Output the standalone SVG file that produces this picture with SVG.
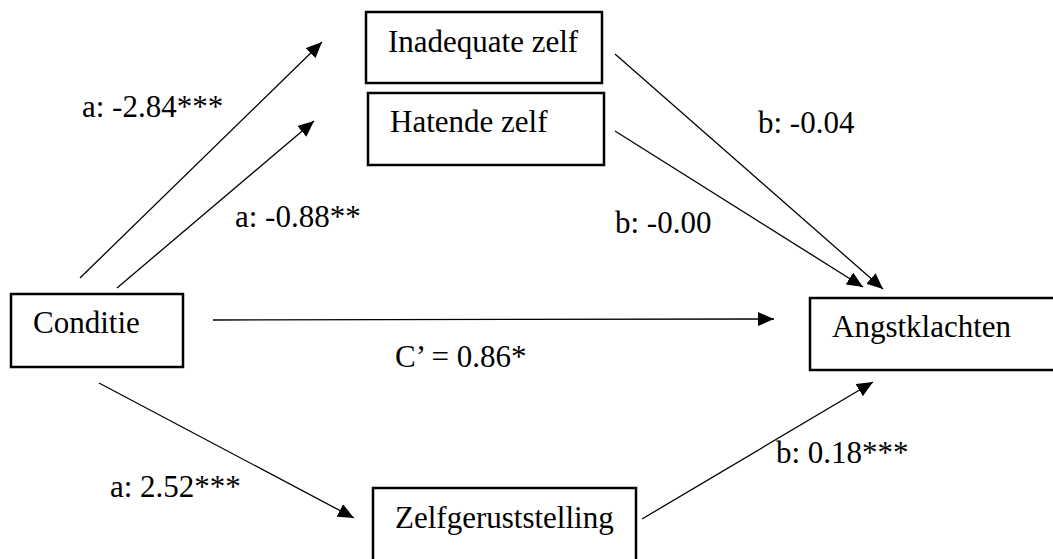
<svg xmlns="http://www.w3.org/2000/svg" width="1053" height="559" viewBox="0 0 1053 559">
  <style>
    .box { fill: #fff; stroke: #000; stroke-width: 2.5; }
    .lbl { font-family: "Liberation Serif", "DejaVu Serif", serif; font-size: 31px; fill: #000; }
    .edge { stroke: #000; stroke-width: 1.3; fill: none; marker-end: url(#arrow); }
  </style>
  <defs>
    <marker id="arrow" markerUnits="userSpaceOnUse" markerWidth="17" markerHeight="14" refX="16" refY="7" orient="auto">
      <path d="M0,0 L16,7 L0,14 z" fill="#000"/>
    </marker>
  </defs>
  <rect width="1053" height="559" fill="#fff"/>

  <g id="node-inadequate">
    <rect class="box" x="366" y="12" width="236" height="71"/>
    <text class="lbl" x="388" y="52">Inadequate zelf</text>
  </g>
  <g id="node-hatende">
    <rect class="box" x="368" y="93" width="236" height="72"/>
    <text class="lbl" x="390" y="132">Hatende zelf</text>
  </g>
  <g id="node-conditie">
    <rect class="box" x="11" y="294" width="172" height="73"/>
    <text class="lbl" x="33" y="333">Conditie</text>
  </g>
  <g id="node-angst">
    <rect class="box" x="810" y="298" width="250" height="72"/>
    <text class="lbl" x="832" y="337">Angstklachten</text>
  </g>
  <g id="node-zelfgerust">
    <rect class="box" x="373" y="488" width="263" height="90"/>
    <text class="lbl" x="395" y="528">Zelfgeruststelling</text>
  </g>

  <g id="connectors">
    <line class="edge" x1="80" y1="278" x2="322" y2="42"/>
    <line class="edge" x1="117" y1="288" x2="314" y2="121"/>
    <line class="edge" x1="615" y1="54" x2="883" y2="289"/>
    <line class="edge" x1="615" y1="131" x2="863" y2="287"/>
    <line class="edge" x1="213" y1="320" x2="774" y2="319"/>
    <line class="edge" x1="99" y1="383" x2="354" y2="518"/>
    <line class="edge" x1="642" y1="519" x2="873" y2="382"/>
  </g>

  <g id="edge-labels">
    <text class="lbl" x="82" y="117">a: -2.84***</text>
    <text class="lbl" x="235" y="227">a: -0.88**</text>
    <text class="lbl" x="758" y="133">b: -0.04</text>
    <text class="lbl" x="615" y="233">b: -0.00</text>
    <text class="lbl" x="395" y="367">C’ = 0.86*</text>
    <text class="lbl" x="110" y="497">a: 2.52***</text>
    <text class="lbl" x="776" y="463">b: 0.18***</text>
  </g>
</svg>
